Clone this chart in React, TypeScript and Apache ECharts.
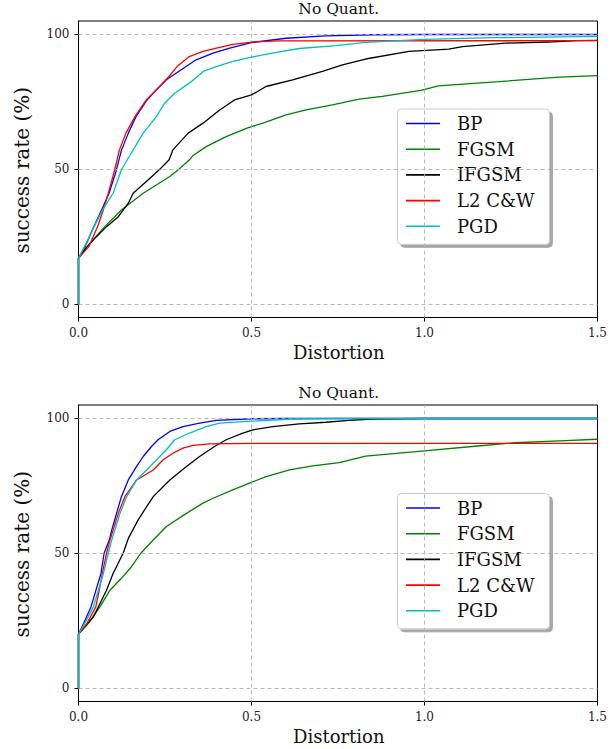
import React, { useEffect, useRef } from "react";
import * as echarts from "echarts";

// ---- data (distortion, success rate %) ----
const SERIES_NAMES = ["BP", "FGSM", "IFGSM", "L2 C&W", "PGD"];
const SERIES_COLORS = ["#0000ff", "#008000", "#000000", "#ff0000", "#00bfbf"];
const X_TICKS = [0, 0.5, 1.0, 1.5];
const Y_TICKS = [0, 50, 100];
const PANEL_TITLES = ["No Quant.", "No Quant."];

const BP_TOP = [[0,0],[0,17],[0.02,21.5],[0.04,27.5],[0.067,35],[0.088,41],[0.108,49],[0.124,57],[0.144,63.4],[0.166,69.5],[0.198,75.7],[0.225,79.5],[0.254,83.2],[0.297,86.9],[0.34,90.6],[0.389,93.1],[0.437,94.9],[0.5,97],[0.6,98.6],[0.715,99.5],[0.85,99.9],[1.0,100],[1.5,100]];
const FGSM_TOP = [[0,0],[0,17],[0.02,20.5],[0.043,24],[0.076,28.7],[0.124,34.9],[0.187,41.1],[0.264,47.3],[0.29,50],[0.321,53.5],[0.33,55],[0.369,58.4],[0.427,62.1],[0.485,65.2],[0.533,67.1],[0.6,70.2],[0.658,72],[0.734,73.9],[0.811,76],[0.878,77],[0.99,79.3],[1.04,80.9],[1.215,82.5],[1.39,84.2],[1.5,84.7]];
const IFGSM_TOP = [[0,0],[0,17],[0.02,20.5],[0.043,23.8],[0.081,28.7],[0.115,32.4],[0.144,37.4],[0.158,41.1],[0.201,46],[0.235,50],[0.262,53.5],[0.273,57.2],[0.317,63.4],[0.36,67.1],[0.408,72],[0.451,75.7],[0.5,77.6],[0.542,80.7],[0.619,83.2],[0.705,86.3],[0.763,88.7],[0.83,90.9],[0.955,93.7],[1.07,94.6],[1.11,95.5],[1.234,96.8],[1.36,97.2],[1.44,97.7],[1.5,97.8]];
const CW_TOP = [[0,0],[0,17],[0.03,21.3],[0.055,28.7],[0.072,35],[0.088,42],[0.105,50],[0.118,57],[0.137,63.4],[0.163,69.5],[0.196,75.7],[0.235,80.7],[0.262,84.5],[0.285,88.1],[0.32,91.8],[0.36,93.7],[0.408,95.2],[0.446,96.3],[0.5,97.2],[0.58,97.6],[1.5,97.7]];
const PGD_TOP = [[0,0],[0,17],[0.02,22],[0.045,28.7],[0.07,35],[0.1,41.1],[0.124,49.8],[0.148,55],[0.158,57.2],[0.187,63.4],[0.225,69.5],[0.249,74.5],[0.278,78.2],[0.326,82.5],[0.36,86.3],[0.398,88.1],[0.446,90],[0.5,91.6],[0.56,93.1],[0.638,94.8],[0.744,95.9],[0.83,97.1],[1.0,98.2],[1.2,98.8],[1.5,99.3]];

const BP_BOT = [[0,0],[0,20],[0.015,24],[0.036,30.1],[0.065,42.5],[0.074,50],[0.089,54.9],[0.096,58.6],[0.11,64.8],[0.124,71],[0.144,77.2],[0.168,82.2],[0.187,85.9],[0.211,89.6],[0.23,92.1],[0.264,95.2],[0.302,97],[0.35,98.3],[0.398,99.3],[0.5,99.9],[0.6,100],[1.5,100]];
const FGSM_BOT = [[0,0],[0,20],[0.028,23.9],[0.062,30.1],[0.091,36.3],[0.124,40.7],[0.153,45],[0.18,50],[0.216,54.9],[0.254,59.9],[0.312,64.8],[0.36,68.6],[0.389,70.4],[0.446,73.5],[0.494,76],[0.542,78.4],[0.61,80.9],[0.677,82.4],[0.754,83.6],[0.83,86],[1.0,88],[1.138,89.6],[1.263,91],[1.407,91.8],[1.5,92.3]];
const IFGSM_BOT = [[0,0],[0,20],[0.02,23],[0.043,26.4],[0.081,36.3],[0.1,42.5],[0.124,48.7],[0.129,50],[0.144,55.5],[0.172,62.3],[0.197,67.3],[0.216,71],[0.264,77.2],[0.312,82.2],[0.35,85.9],[0.393,89.6],[0.427,92.1],[0.475,94.6],[0.504,95.8],[0.561,97],[0.638,98],[0.715,98.6],[0.782,99.3],[0.85,99.8],[1.0,100],[1.5,100]];
const CW_BOT = [[0,0],[0,20],[0.024,23.9],[0.05,30.1],[0.06,36.3],[0.069,42.5],[0.081,50],[0.091,54.9],[0.1,58.6],[0.115,64.8],[0.134,71],[0.168,77.2],[0.216,80.9],[0.244,84.6],[0.273,87.1],[0.302,89],[0.331,90],[0.379,90.6],[0.5,90.8],[1.5,90.8]];
const PGD_BOT = [[0,0],[0,20],[0.018,24],[0.043,30.1],[0.072,42.5],[0.086,50],[0.096,54.9],[0.105,58.6],[0.12,64.8],[0.139,71],[0.168,77.2],[0.197,80.9],[0.225,84.6],[0.254,88.4],[0.278,92.1],[0.321,94.6],[0.369,97],[0.408,98.3],[0.485,98.9],[0.62,99.8],[0.75,100],[1.5,100]];

const PANELS = [
  [BP_TOP, FGSM_TOP, IFGSM_TOP, CW_TOP, PGD_TOP],
  [BP_BOT, FGSM_BOT, IFGSM_BOT, CW_BOT, PGD_BOT],
];

const FONT = "DejaVu Serif";
const GRID_LEFT = 78.5;
const GRID_WIDTH = 520.5;
const GRID_TOPS = [21, 405];
const GRID_HEIGHT = 296.5;

export default function App() {
  const ref = useRef<HTMLDivElement>(null);
  useEffect(() => {
    if (!ref.current) return;
    const chart = echarts.init(ref.current, undefined, { renderer: "svg" });

    const grids = GRID_TOPS.map((t) => ({
      left: GRID_LEFT,
      top: t,
      width: GRID_WIDTH,
      height: GRID_HEIGHT,
      show: true,
      borderColor: "#000",
      borderWidth: 1,
      backgroundColor: "transparent",
    }));

    const xAxes = GRID_TOPS.map((_, i) => ({
      type: "value",
      gridIndex: i,
      min: 0,
      max: 1.5,
      interval: 0.5,
      axisLine: { show: true, onZero: false, lineStyle: { color: "#000", width: 1 } },
      axisTick: { show: true, inside: false, length: 4, lineStyle: { color: "#000" } },
      axisLabel: {
        fontFamily: FONT,
        fontSize: 12,
        color: "#222",
        margin: 9,
        formatter: (v: number) => v.toFixed(1),
      },
      splitLine: { show: false },
    }));

    const yAxes = GRID_TOPS.map((_, i) => ({
      type: "value",
      gridIndex: i,
      min: -5,
      max: 105,
      axisLine: { show: true, onZero: false, lineStyle: { color: "#000", width: 1 } },
      axisTick: { show: true, inside: false, length: 4, customValues: Y_TICKS, lineStyle: { color: "#000" } },
      axisLabel: {
        fontFamily: FONT,
        fontSize: 12,
        color: "#222",
        margin: 9,
        customValues: Y_TICKS,
      },
      splitLine: { show: false },
    }));

    const series: any[] = [];
    PANELS.forEach((panel, p) => {
      // grid lines
      series.push({
        type: "line",
        xAxisIndex: p,
        yAxisIndex: p,
        data: [],
        z: 1,
        silent: true,
        markLine: {
          silent: true,
          symbol: ["none", "none"],
          label: { show: false },
          lineStyle: { color: "#b0b0b0", type: [4, 3], width: 0.9 },
          data: [
            ...Y_TICKS.map((y) => ({ yAxis: y })),
            ...X_TICKS.filter((x) => x > 0 && x < 1.5).map((x) => ({ xAxis: x })),
          ],
        },
      });
      panel.forEach((data, k) => {
        series.push({
          name: SERIES_NAMES[k],
          type: "line",
          xAxisIndex: p,
          yAxisIndex: p,
          data,
          showSymbol: false,
          symbol: "none",
          z: 2 + k,
          lineStyle: { color: SERIES_COLORS[k], width: 1.3 },
          itemStyle: { color: SERIES_COLORS[k] },
        });
      });
    });

    const legends = GRID_TOPS.map((t, i) => ({
      data: SERIES_NAMES,
      orient: "vertical",
      left: 397.5,
      top: i === 0 ? 109 : 493.5,
      icon: "rect",
      itemWidth: 34,
      itemHeight: 1.6,
      itemGap: 5.7,
      padding: [4.5, 15, 8, 8.5],
      backgroundColor: "#fff",
      borderColor: "#cccccc",
      borderWidth: 1,
      borderRadius: 4,
      shadowColor: "rgba(0,0,0,0.35)",
      shadowOffsetX: 3,
      shadowOffsetY: 3,
      shadowBlur: 0,
      selectedMode: false,
      textStyle: {
        fontFamily: FONT,
        fontSize: 18,
        color: "#111",
        lineHeight: 20,
        padding: [0, 0, 0, 12],
      },
    }));

    const cx = GRID_LEFT + GRID_WIDTH / 2;
    const graphics: any[] = [];
    GRID_TOPS.forEach((t, i) => {
      graphics.push({
        type: "text",
        x: cx,
        y: t - 12,
        style: { text: PANEL_TITLES[i], font: `15.5px '${FONT}'`, fill: "#111", align: "center", verticalAlign: "middle" },
      });
      graphics.push({
        type: "text",
        x: cx,
        y: t + GRID_HEIGHT + 35,
        style: { text: "Distortion", font: `18px '${FONT}'`, fill: "#111", align: "center", verticalAlign: "middle" },
      });
      graphics.push({
        type: "text",
        x: 22,
        y: t + GRID_HEIGHT / 2 + 1,
        rotation: Math.PI / 2,
        style: { text: "success rate (%)", font: `20px '${FONT}'`, fill: "#111", align: "center", verticalAlign: "middle" },
      });
    });

    chart.setOption({
      animation: false,
      backgroundColor: "#fff",
      grid: grids,
      xAxis: xAxes,
      yAxis: yAxes,
      legend: legends,
      series,
      graphic: graphics,
    });
    return () => chart.dispose();
  }, []);
  return <div ref={ref} style={{ position: "fixed", left: 0, top: 0, width: 610, height: 749 }} />;
}
